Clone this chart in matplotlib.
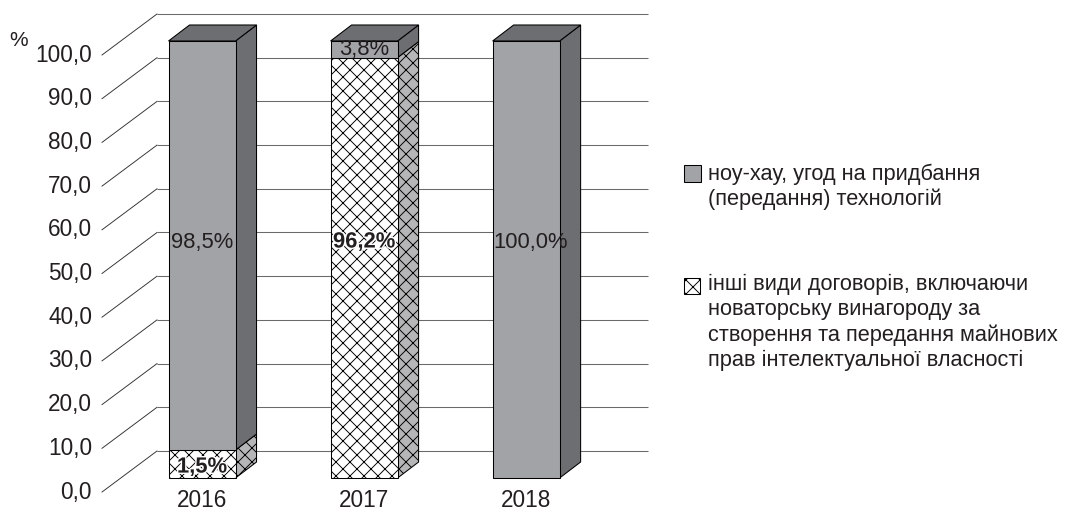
import matplotlib
matplotlib.use("Agg")
import matplotlib.pyplot as plt
from matplotlib.patches import Polygon, Rectangle
import matplotlib.patheffects as pe

# ---------------- data ----------------
years = ["2016", "2017", "2018"]
# drawn segment heights (%)
other_share = [6.4, 96.2, 0.0]        # інші види договорів (hatched, bottom)
knowhow_share = [93.6, 3.8, 100.0]    # ноу-хау (grey, top)
other_labels = ["1,5%", "96,2%", ""]
knowhow_labels = ["98,5%", "3,8%", "100,0%"]
y_ticks = [0, 10, 20, 30, 40, 50, 60, 70, 80, 90, 100]
y_tick_labels = ["0,0", "10,0", "20,0", "30,0", "40,0", "50,0",
                 "60,0", "70,0", "80,0", "90,0", "100,0"]
legend_knowhow = ["ноу-хау, угод на придбання", "(передання) технологій"]
legend_other = ["інші види договорів, включаючи",
                "новаторську винагороду за",
                "створення та передання майнових",
                "прав інтелектуальної власності"]

# ---------------- style ----------------
W, H, DPI = 1067, 512, 84
plt.rcParams["font.family"] = ["Liberation Sans", "DejaVu Sans"]
plt.rcParams["hatch.linewidth"] = 0.8
TXT = "#231f20"
FRONT = "#a2a3a7"
DARK = "#6d6e72"
HATCH_SIDE = "#b6b6b8"
GRID = "#6a6a6a"

def pt(px):
    return px * 72.0 / DPI

fig = plt.figure(figsize=((W + 0.01) / DPI, (H + 0.01) / DPI), dpi=DPI)
fig.patch.set_facecolor("white")

ax_left, ax_right, ax_top, ax_bottom = 121, 612, 41, 478
ax = fig.add_axes([ax_left / W, (H - ax_bottom) / H,
                   (ax_right - ax_left) / W, (ax_bottom - ax_top) / H])
xmin, xmax = -0.5, 2.53
ax.set_xlim(xmin, xmax)
ax.set_ylim(0, 100)
ax.axis("off")

sx = (ax_right - ax_left) / (xmax - xmin)   # px per category unit
sy = (ax_bottom - ax_top) / 100.0           # px per percent

def d(px, py):
    return px / sx, py / sy

bx, by = d(21, 16)     # bar depth
wx, wy = d(36, 27)     # back wall offset
fx, fy = d(-19, -14)   # front axis offset

# wall grid lines + slanted side lines
for v in y_ticks:
    ax.plot([xmin + wx, xmax + wx], [v + wy, v + wy], color=GRID, lw=0.9,
            clip_on=False, zorder=1, solid_capstyle="butt")
    ax.plot([xmin + fx, xmin + wx], [v + fy, v + wy], color="#333333", lw=0.8,
            clip_on=False, zorder=1)
for v, lab in zip(y_ticks, y_tick_labels):
    ax.text(xmin + fx - 10 / sx, v + fy, lab, ha="right", va="center",
            fontsize=pt(22.5), color=TXT, clip_on=False)

fig.text(19 / W, 1 - 40 / H, "%", ha="center", va="center",
         fontsize=pt(21), color=TXT)

bw = 67 / sx
for i, yr in enumerate(years):
    x0, x1 = i - bw / 2, i + bw / 2
    bottom = 0.0
    segs = [(other_share[i], "white", HATCH_SIDE, "xx"),
            (knowhow_share[i], FRONT, DARK, None)]
    segs = [s for s in segs if s[0] > 0]
    for k, (val, fc, sc, hatch) in enumerate(segs):
        ax.add_patch(Rectangle((x0, bottom), bw, val, facecolor=fc,
                               edgecolor="black", lw=0.9, hatch=hatch,
                               zorder=3, clip_on=False))
        ax.add_patch(Polygon([(x1, bottom), (x1, bottom + val),
                              (x1 + bx, bottom + val + by), (x1 + bx, bottom + by)],
                             closed=True, facecolor=sc, edgecolor="black",
                             lw=0.9, hatch=hatch, zorder=2, clip_on=False))
        bottom += val
        if k == len(segs) - 1:
            ax.add_patch(Polygon([(x0, bottom), (x1, bottom),
                                  (x1 + bx, bottom + by), (x0 + bx, bottom + by)],
                                 closed=True, facecolor=DARK, edgecolor="black",
                                 lw=0.9, zorder=2, clip_on=False))
    ax.text(i, -22 / sy, yr, ha="center", va="center", fontsize=pt(22.5),
            color=TXT, clip_on=False)

# data labels
halo = [pe.withStroke(linewidth=2.5, foreground="white")]
ax.text(0, 54, knowhow_labels[0], ha="center", va="center", fontsize=pt(22),
        color=TXT, zorder=5)
ax.text(1, 98, knowhow_labels[1], ha="center", va="center", fontsize=pt(22),
        color=TXT, zorder=5)
ax.text(2 + 5 / sx, 54, knowhow_labels[2], ha="center", va="center",
        fontsize=pt(22), color=TXT, zorder=5)
ax.text(1, 54, other_labels[1], ha="center", va="center", fontsize=pt(22),
        color=TXT, fontweight="bold", zorder=5, path_effects=halo)
ax.text(0, 2.5, other_labels[0], ha="center", va="center", fontsize=pt(22),
        color=TXT, fontweight="bold", zorder=5, path_effects=halo)

# legend (drawn manually)
def fig_rect(x, y, w, h, **kw):
    fig.add_artist(Rectangle((x / W, 1 - (y + h) / H), w / W, h / H,
                             transform=fig.transFigure, **kw))

fig_rect(684, 165, 17, 17, facecolor=FRONT, edgecolor="black", lw=0.9)
fig_rect(684, 278, 16, 16, facecolor="white", edgecolor="black", lw=0.9, hatch="xx")
for j, line in enumerate(legend_knowhow):
    fig.text(708 / W, 1 - (180 + 25.3 * j) / H, line, ha="left", va="baseline",
             fontsize=pt(21.8), color=TXT)
for j, line in enumerate(legend_other):
    fig.text(708 / W, 1 - (290 + 25.3 * j) / H, line, ha="left", va="baseline",
             fontsize=pt(21.8), color=TXT)

fig.savefig("out.png", dpi=DPI, facecolor="white")
